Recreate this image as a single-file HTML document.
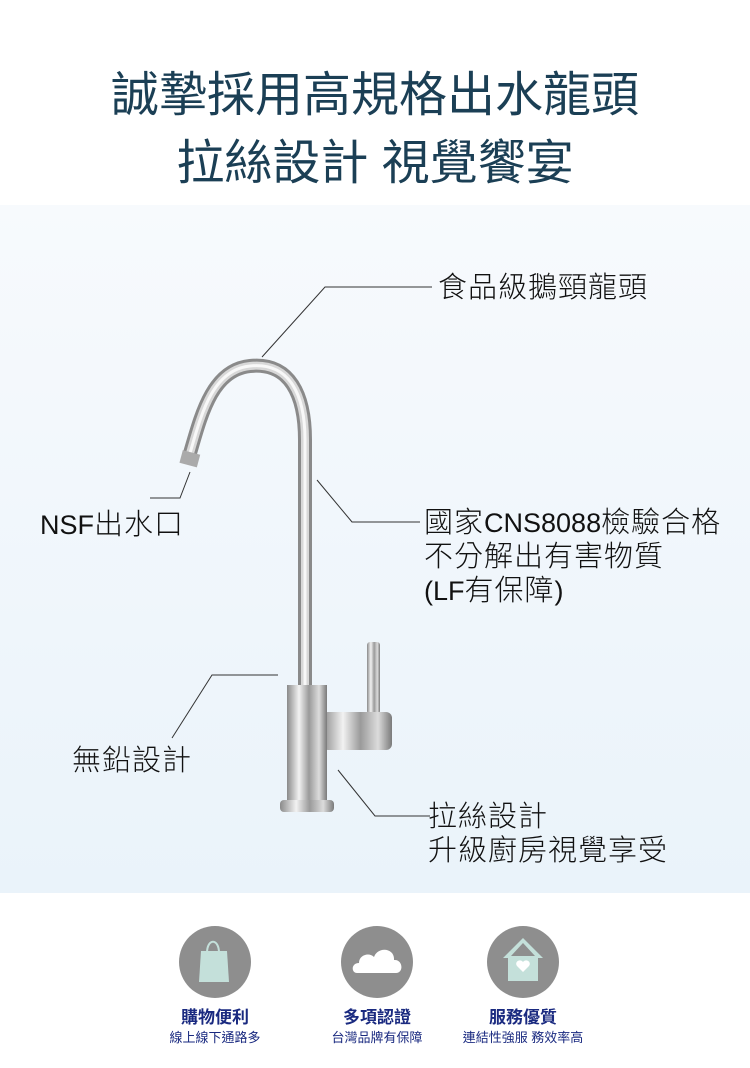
<!DOCTYPE html>
<html><head><meta charset="utf-8"><style>
body{margin:0;width:750px;height:1068px;position:relative;background:#fff;overflow:hidden;font-family:"Liberation Sans","Noto Sans CJK TC",sans-serif}
.t{position:absolute;left:0;width:750px;text-align:center;color:#1b3f55;font-weight:400;font-size:48px;letter-spacing:0px;line-height:1}
.band{position:absolute;left:0;top:205px;width:750px;height:688px;background:linear-gradient(#f7fafd,#eaf3fa)}
.l{position:absolute;font-size:29px;color:#111;line-height:34px;font-weight:300;white-space:nowrap;letter-spacing:1px}
.l span{letter-spacing:0;font-size:27px}
.ic{position:absolute;top:926px;width:72px;height:72px;border-radius:50%;background:#8e8e8e}
.h{position:absolute;top:1003px;width:200px;text-align:center;color:#1a2a80;font-weight:bold;font-size:17px}
.s{position:absolute;top:1027px;width:200px;text-align:center;color:#1a2a80;font-size:13px}
</style></head><body>
<div class="t" style="top:72px">誠摯採用高規格出水龍頭</div>
<div class="t" style="top:140px">拉絲設計 視覺饗宴</div>
<div class="band"></div>
<svg style="position:absolute;left:0;top:0" width="750" height="1068">
<defs>
<linearGradient id="m" x1="0" x2="1"><stop offset="0" stop-color="#8a8a8a"/><stop offset=".3" stop-color="#f2f2f2"/><stop offset=".55" stop-color="#9a9a9a"/><stop offset=".8" stop-color="#dcdcdc"/><stop offset="1" stop-color="#7a7a7a"/></linearGradient>
</defs>
<g stroke="#333" stroke-width="1" fill="none">
<polyline points="262,357 325,287 432,287"/>
<polyline points="190,472 180,498 150,498"/>
<polyline points="317,480 352,522 420,522"/>
<polyline points="278,675 212,675 172,738"/>
<polyline points="338,770 375,816 430,816"/>
</g>
<path d="M188,460 C200,420 210,370 250,366 C290,362 305,395 305,440 L305,690" stroke="#8a8a8a" stroke-width="14" fill="none"/>
<path d="M188,460 C200,420 210,370 250,366 C290,362 305,395 305,440 L305,690" stroke="#d8d8d8" stroke-width="8" fill="none"/>
<path d="M188,460 C200,420 210,370 250,366 C290,362 305,395 305,440 L305,690" stroke="#f8f8f8" stroke-width="3" fill="none"/>
<rect x="181" y="452" width="18" height="13" fill="#aaa" transform="rotate(15 189 458)"/>
<rect x="367" y="642" width="13" height="72" rx="3" fill="url(#m)"/>
<rect x="322" y="712" width="70" height="38" rx="6" fill="url(#m)"/>
<rect x="287" y="685" width="40" height="118" fill="url(#m)"/>
<rect x="280" y="800" width="54" height="12" rx="4" fill="url(#m)"/>
</svg>
<div class="l" style="left:438px;top:271px">食品級鵝頸龍頭</div>
<div class="l" style="left:40px;top:508px"><span>NSF</span>出水口</div>
<div class="l" style="left:424px;top:506px">國家<span>CNS8088</span>檢驗合格<br>不分解出有害物質<br><span>(LF</span>有保障<span>)</span></div>
<div class="l" style="left:72px;top:744px">無鉛設計</div>
<div class="l" style="left:428px;top:800px">拉絲設計<br>升級廚房視覺享受</div>
<div class="ic" style="left:179px"><svg width="72" height="72"><path d="M22,25 L48,25 L50,56 L20,56Z" fill="#c4e0da"/><path d="M28,27 C28,12 40,12 40,27" stroke="#c4e0da" stroke-width="2" fill="none"/></svg></div>
<div class="ic" style="left:341px"><svg width="72" height="72"><path d="M16,47 C10,47 10,37 18,37 C18,29 28,26 33,31 C37,20 54,22 53,34 C62,33 63,47 55,47Z" fill="#fff"/></svg></div>
<div class="ic" style="left:487px"><svg width="72" height="72"><path d="M36,12 L16,32 L21,32 L21,55 L51,55 L51,32 L56,32Z" fill="#c4e0da"/><path d="M36,17 L24,30 L48,30Z" fill="#8e8e8e"/><path d="M36,46 L30,40 C27,36 33,32 36,36 C39,32 45,36 42,40Z" fill="#fff"/></svg></div>
<div class="h" style="left:115px">購物便利</div><div class="s" style="left:115px">線上線下通路多</div>
<div class="h" style="left:277px">多項認證</div><div class="s" style="left:277px">台灣品牌有保障</div>
<div class="h" style="left:423px">服務優質</div><div class="s" style="left:423px">連結性強服 務效率高</div>
</body></html>
